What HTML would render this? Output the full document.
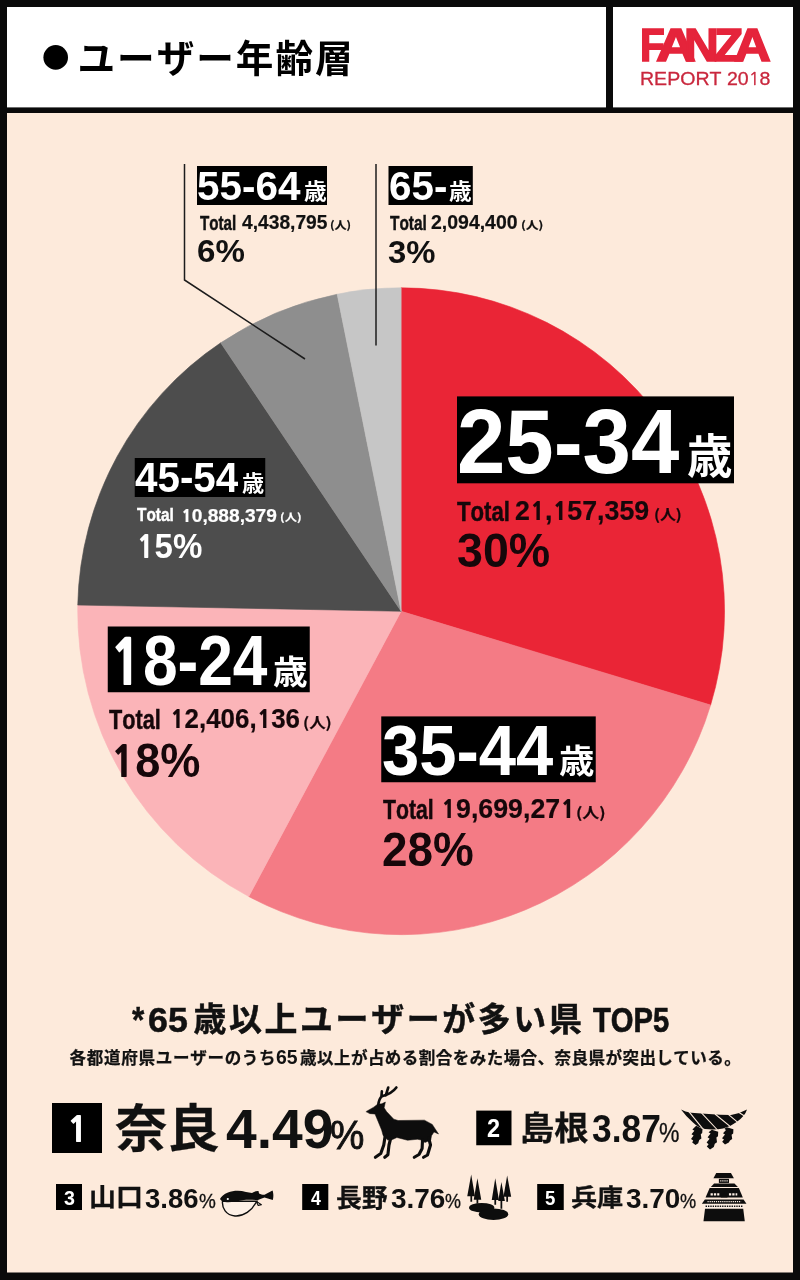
<!DOCTYPE html>
<html lang="ja">
<head>
<meta charset="utf-8">
<title>ユーザー年齢層 - FANZA REPORT 2018</title>
<style>
html,body{margin:0;padding:0;background:#0a0a0a;}
body{width:800px;height:1280px;overflow:hidden;position:relative;}
svg{display:block;position:absolute;left:0;top:0;}
.t{position:absolute;white-space:pre;line-height:1;transform-origin:0 0;font-kerning:none;margin:0;padding:0;}
.lb{font-family:"Liberation Sans","Noto Sans CJK JP",sans-serif;font-weight:700;}
.lr{font-family:"Liberation Sans","Noto Sans CJK JP",sans-serif;font-weight:400;}
.jb{font-family:"Noto Sans CJK JP","Liberation Sans",sans-serif;font-weight:700;}
.jk{font-family:"Noto Sans CJK JP","Liberation Sans",sans-serif;font-weight:900;}
.nb{font-family:"NanumGothic","Liberation Sans",sans-serif;font-weight:800;font-size:88.66%;margin-left:.026em;}
.nr{font-family:"NanumGothic","Liberation Sans",sans-serif;font-weight:400;font-size:92.2%;}
</style>
</head>
<body>
<svg width="800" height="1280" viewBox="0 0 800 1280">
<rect x="0" y="0" width="800.00" height="1280.00" fill="#0a0a0a"/>
<rect x="7" y="7" width="599.00" height="100.40" fill="#fff"/>
<rect x="613" y="7" width="180.00" height="100.40" fill="#fff"/>
<rect x="7" y="113" width="786.00" height="1159.50" fill="#fdeadb"/>
<circle cx="55.7" cy="57.4" r="12.3" fill="#000"/>
<path d="M401.1 611.25L401.10 287.85A323.4 323.4 0 0 1 710.62 704.99Z" fill="#ea2536" stroke="#ea2536" stroke-width="0.6"/>
<path d="M401.1 611.25L710.62 704.99A323.4 323.4 0 0 1 248.77 896.53Z" fill="#f47b85" stroke="#f47b85" stroke-width="0.6"/>
<path d="M401.1 611.25L248.77 896.53A323.4 323.4 0 0 1 77.76 605.04Z" fill="#fbb4b8" stroke="#fbb4b8" stroke-width="0.6"/>
<path d="M401.1 611.25L77.76 605.04A323.4 323.4 0 0 1 220.73 342.82Z" fill="#4d4d4d" stroke="#4d4d4d" stroke-width="0.6"/>
<path d="M401.1 611.25L220.73 342.82A323.4 323.4 0 0 1 337.18 294.23Z" fill="#8e8e8e" stroke="#8e8e8e" stroke-width="0.6"/>
<path d="M401.1 611.25L337.18 294.23A323.4 323.4 0 0 1 401.10 287.85Z" fill="#c6c6c6" stroke="#c6c6c6" stroke-width="0.6"/>
<path d="M184.5 164V280L305 359" fill="none" stroke="#1c1c1c" stroke-width="1.5"/>
<path d="M376 164V345.5" fill="none" stroke="#1c1c1c" stroke-width="1.5"/>
<rect x="197" y="166" width="130.00" height="39.00" fill="#000"/>
<rect x="388.5" y="166" width="84.30" height="39.00" fill="#000"/>
<rect x="457" y="396.4" width="277.00" height="86.90" fill="#000"/>
<rect x="381.25" y="716.4" width="214.50" height="65.85" fill="#000"/>
<rect x="107.75" y="626.5" width="202.00" height="65.75" fill="#000"/>
<rect x="134.75" y="458" width="130.50" height="39.00" fill="#000"/>
<rect x="52" y="1103" width="50.00" height="50.00" fill="#000"/>
<rect x="476.25" y="1110.6" width="35.25" height="34.65" fill="#000"/>
<rect x="56" y="1184" width="26.00" height="26.00" fill="#000"/>
<rect x="302.2" y="1184" width="26.10" height="26.00" fill="#000"/>
<rect x="537.2" y="1184" width="26.55" height="26.00" fill="#000"/>
<g transform="translate(355 1075) scale(0.125)" fill="#0d0d0d" stroke="#0d0d0d" stroke-linecap="round" stroke-linejoin="round"><path stroke-width="4" d="M90 292L150 257L180 234L215 230L243 216L233 262L252 292L310 353L345 364L555 361L618 395L668 472L632 455L612 486L606 520L560 540L530 520L500 514L420 522L335 500L300 516L262 520L225 484L213 440L185 372L160 312L120 309Z"/><path fill="none" stroke-width="21" d="M186 240C190 205 200 182 216 170C255 160 300 142 331 100M211 172L215 130M246 163L266 100"/><path fill="none" stroke-width="25" d="M590 505L604 560L580 640L548 658M540 520L537 588L512 636L474 658M288 496L272 560L263 638L238 658M243 476L230 560L206 628L163 658"/></g>
<g transform="translate(675 1100) scale(0.1)"><path fill="#0d0d0d" d="M60 95Q100 118 160 128L300 138L450 148L560 150Q650 135 720 95Q700 160 620 218Q560 265 480 285Q400 300 300 290Q230 275 180 225Q110 165 60 95Z"/><path fill="none" stroke="#fdeadb" stroke-width="11" d="M135 112L285 296M265 128L425 300M400 140L560 272M530 142L625 222M628 118L695 160"/><path fill="#0d0d0d" d="M212 258L275 290L272 330L258 342L264 385L242 400L232 432L205 450L172 426L182 404L160 390L186 356L165 342L194 308L174 296Z"/><path fill="#0d0d0d" d="M368 298L432 318L430 362L414 375L420 422L398 437L388 470L350 494L318 466L336 442L316 426L346 388L326 372L356 336L336 322Z"/><path fill="#0d0d0d" d="M518 272L584 292L582 334L566 347L572 390L550 404L538 424L500 444L472 418L490 396L470 382L500 346L480 332L510 300L493 288Z"/></g>
<g transform="translate(210 1175) scale(0.1)"><path fill="#fdf0e6" stroke="#0d0d0d" stroke-width="14" d="M125 262C118 330 160 402 250 410C340 416 420 350 452 288L470 262Z"/><path fill="#0d0d0d" d="M100 240C110 215 140 190 180 175C230 155 300 150 360 170L420 180C440 165 465 158 485 160L490 185C510 195 530 200 545 198L625 155C636 180 636 225 628 250L545 225C520 232 500 240 480 250C440 250 380 245 340 250C280 262 220 274 170 272C140 270 112 262 100 240Z"/><path fill="#fdf0e6" stroke="#0d0d0d" stroke-width="11" stroke-linejoin="round" d="M464 264L514 298L482 304Z"/><circle cx="178" cy="240" r="11" fill="#fff"/></g>
<g transform="translate(455 1165) scale(0.0875)" fill="#0d0d0d"><path d="M185 108L228 358L196 358L196 420L176 420L176 358L140 358Z"/><path d="M256 150L300 396L266 396L266 440L246 440L246 396L214 396Z"/><path d="M460 150L502 400L470 400L470 455L450 455L450 400L420 400Z"/><path d="M530 195L570 412L540 412L540 500L520 500L520 412L494 412Z"/><path d="M596 120L642 362L606 362L606 420L586 420L586 362L554 362Z"/><ellipse cx="305" cy="488" rx="145" ry="55"/><ellipse cx="440" cy="562" rx="168" ry="66"/></g>
<g transform="translate(690 1165) scale(0.0875)" fill="#0d0d0d"><path d="M300 92L468 92L502 152L268 152Z"/><path d="M330 158H446V205H330Z"/><path d="M275 212H508L548 252H238Z"/><path d="M225 262H558L604 372H178Z"/><path d="M170 395H612L645 442H135Z"/><path fill="#fdf0e6" d="M165 450H612V494H165Z"/><path d="M172 500H608L626 642H154Z"/><path fill="none" stroke="#fdf0e6" stroke-width="14" stroke-dasharray="14 10" d="M345 182H435M200 418H585"/><path fill="none" stroke="#0d0d0d" stroke-width="16" stroke-dasharray="16 11" d="M178 472H605"/><path fill="none" stroke="#fdf0e6" stroke-width="26" stroke-dasharray="26 12" d="M235 335H335M445 335H540"/><path d="M350 372L390 318L430 372Z"/></g>
</svg>
<div class="t jb" style="left:77.42px;top:37.33px;font-size:37.61px;color:#000;letter-spacing:2.007px">ユーザー年齢層</div>
<div class="t lb" style="left:640.05px;top:22.87px;font-size:45.64px;color:#e5243b;-webkit-text-stroke:1.6px #e5243b"><span style="display:inline-block;width:0;position:relative;left:-0.00px;transform:scaleX(0.889);transform-origin:0 0">F</span><span style="display:inline-block;width:0;position:relative;left:15.59px;transform:scaleX(1.210);transform-origin:0 0">A</span><span style="display:inline-block;width:0;position:relative;left:43.62px;transform:scaleX(1.055);transform-origin:0 0">N</span><span style="display:inline-block;width:0;position:relative;left:74.42px;transform:scaleX(1.045);transform-origin:0 0">Z</span><span style="display:inline-block;width:0;position:relative;left:93.62px;transform:scaleX(1.117);transform-origin:0 0">A</span></div>
<div class="t lr" style="left:640.39px;top:70.00px;font-size:18.90px;color:#c9273d;transform:scaleX(1.0350);-webkit-text-stroke:0.3px #c9273d">REPORT 20<span class="nr">1</span>8</div>
<div class="t lb" style="left:196.97px;top:165.63px;font-size:41.31px;color:#fff;transform:scaleX(0.9802)">55-64</div>
<div class="t jb" style="left:303.91px;top:179.06px;font-size:21.36px;color:#fff;transform:scaleX(1.0625)">歳</div>
<div class="t lb" style="left:199.85px;top:212.75px;font-size:20.06px;color:#111;transform:scaleX(0.7573);-webkit-text-stroke:0.45px #111">Total</div>
<div class="t lb" style="left:242.11px;top:212.36px;font-size:20.06px;color:#111;transform:scaleX(0.9586);-webkit-text-stroke:0.2px #111">4,438,795</div>
<div class="t jb" style="left:329.88px;top:220.09px;font-size:10.67px;color:#111;transform:scaleX(1.1265);-webkit-text-stroke:0.2px #111">(人)</div>
<div class="t lb" style="left:196.81px;top:235.79px;font-size:31.78px;color:#111;transform:scaleX(1.0416)">6%</div>
<div class="t lb" style="left:388.61px;top:165.63px;font-size:41.31px;color:#fff;transform:scaleX(0.9783)">65-</div>
<div class="t jb" style="left:449.30px;top:179.06px;font-size:21.36px;color:#fff;transform:scaleX(1.0625)">歳</div>
<div class="t lb" style="left:390.04px;top:212.75px;font-size:20.06px;color:#111;transform:scaleX(0.7676);-webkit-text-stroke:0.45px #111">Total</div>
<div class="t lb" style="left:430.99px;top:212.39px;font-size:20.06px;color:#111;transform:scaleX(0.9710);-webkit-text-stroke:0.2px #111">2,094,400</div>
<div class="t jb" style="left:520.92px;top:220.01px;font-size:10.67px;color:#111;transform:scaleX(1.1925);-webkit-text-stroke:0.2px #111">(人)</div>
<div class="t lb" style="left:388.41px;top:235.64px;font-size:32.14px;color:#111;transform:scaleX(1.0224)">3%</div>
<div class="t lb" style="left:457.19px;top:397.33px;font-size:90.21px;color:#fff;transform:scaleX(0.9635)">25-34</div>
<div class="t jb" style="left:687.12px;top:429.77px;font-size:46.23px;color:#fff;transform:scaleX(0.9823)">歳</div>
<div class="t lb" style="left:457.08px;top:498.36px;font-size:27.18px;color:#16070a;transform:scaleX(0.8162);-webkit-text-stroke:0.45px #16070a">Total</div>
<div class="t lb" style="left:514.82px;top:496.92px;font-size:27.18px;color:#16070a;transform:scaleX(0.9847);-webkit-text-stroke:0.2px #16070a">2<span class="nb">1</span>,<span class="nb">1</span>57,359</div>
<div class="t jb" style="left:653.70px;top:506.60px;font-size:14.45px;color:#16070a;transform:scaleX(1.0924);-webkit-text-stroke:0.2px #16070a">(人)</div>
<div class="t lb" style="left:456.57px;top:526.32px;font-size:48.35px;color:#16070a;transform:scaleX(0.9633)">30%</div>
<div class="t lb" style="left:382.34px;top:716.87px;font-size:69.63px;color:#fff;transform:scaleX(0.9627)">35-44</div>
<div class="t jb" style="left:558.89px;top:743.17px;font-size:32.94px;color:#fff;transform:scaleX(1.0750)">歳</div>
<div class="t lb" style="left:383.00px;top:795.69px;font-size:27.25px;color:#16070a;transform:scaleX(0.7790);-webkit-text-stroke:0.45px #16070a">Total</div>
<div class="t lb" style="left:441.46px;top:795.14px;font-size:27.25px;color:#16070a;transform:scaleX(0.9824);-webkit-text-stroke:0.2px #16070a"><span class="nb">1</span>9,699,27<span class="nb">1</span></div>
<div class="t jb" style="left:576.13px;top:804.85px;font-size:14.49px;color:#16070a;transform:scaleX(1.1619);-webkit-text-stroke:0.2px #16070a">(人)</div>
<div class="t lb" style="left:382.32px;top:825.13px;font-size:48.59px;color:#16070a;transform:scaleX(0.9432)">28%</div>
<div class="t lb" style="left:107.84px;top:626.37px;font-size:70.34px;color:#fff;transform:scaleX(0.8853)"><span class="nb">1</span>8-24</div>
<div class="t jb" style="left:272.93px;top:653.13px;font-size:33.48px;color:#fff;transform:scaleX(1.0339)">歳</div>
<div class="t lb" style="left:109.29px;top:705.69px;font-size:27.25px;color:#16070a;transform:scaleX(0.7959);-webkit-text-stroke:0.45px #16070a">Total</div>
<div class="t lb" style="left:169.83px;top:705.14px;font-size:27.25px;color:#16070a;transform:scaleX(0.9516);-webkit-text-stroke:0.2px #16070a"><span class="nb">1</span>2,406,<span class="nb">1</span>36</div>
<div class="t jb" style="left:302.89px;top:714.84px;font-size:14.49px;color:#16070a;transform:scaleX(1.1321);-webkit-text-stroke:0.2px #16070a">(人)</div>
<div class="t lb" style="left:109.82px;top:736.18px;font-size:48.38px;color:#16070a;transform:scaleX(0.9326)"><span class="nb">1</span>8%</div>
<div class="t lb" style="left:134.85px;top:457.48px;font-size:41.92px;color:#fff;transform:scaleX(0.9636)">45-54</div>
<div class="t jb" style="left:241.91px;top:471.07px;font-size:21.36px;color:#fff;transform:scaleX(1.0385)">歳</div>
<div class="t lb" style="left:136.63px;top:505.31px;font-size:19.26px;color:#fff;transform:scaleX(0.7998);-webkit-text-stroke:0.45px #fff">Total</div>
<div class="t lb" style="left:180.67px;top:506.10px;font-size:19.26px;color:#fff;transform:scaleX(0.9949);-webkit-text-stroke:0.2px #fff"><span class="nb">1</span>0,888,379</div>
<div class="t jb" style="left:279.89px;top:511.97px;font-size:10.24px;color:#fff;transform:scaleX(1.2031);-webkit-text-stroke:0.2px #fff">(人)</div>
<div class="t lb" style="left:136.05px;top:529.32px;font-size:34.37px;color:#fff;transform:scaleX(0.9621)"><span class="nb">1</span>5%</div>
<div class="t lb" style="left:131.77px;top:1003.08px;font-size:36.55px;color:#111;transform:scaleX(0.8637);-webkit-text-stroke:0.4px #111">*</div>
<div class="t lb" style="left:147.75px;top:1002.56px;font-size:35.73px;color:#111;transform:scaleX(1.0024);-webkit-text-stroke:0.5px #111">65</div>
<div class="t jb" style="left:193.38px;top:1000.66px;font-size:32.89px;color:#111;letter-spacing:2.678px;-webkit-text-stroke:0.5px #111">歳以上ユーザーが多い県</div>
<div class="t lb" style="left:593.13px;top:1002.55px;font-size:35.73px;color:#111;transform:scaleX(0.8174);-webkit-text-stroke:0.7px #111">TOP5</div>
<div class="t jb" style="left:69.46px;top:1048.79px;font-size:16.56px;color:#111;letter-spacing:0.695px;-webkit-text-stroke:0.25px #111">各都道府県ユーザーのうち</div>
<div class="t lb" style="left:275.55px;top:1048.01px;font-size:19.35px;color:#111;transform:scaleX(1.0045)">65</div>
<div class="t jb" style="left:300.00px;top:1048.69px;font-size:16.56px;color:#111;letter-spacing:0.423px;-webkit-text-stroke:0.25px #111">歳以上が占める割合をみた場合、奈良県が突出している。</div>
<div class="t lb" style="left:65.66px;top:1109.94px;font-size:38.23px;color:#fff;transform:scaleX(1.0489)"><span class="nb">1</span></div>
<div class="t jb" style="left:114.63px;top:1100.32px;font-size:50.64px;color:#111;transform:scaleX(1.0344);-webkit-text-stroke:0.3px #111">奈良</div>
<div class="t lb" style="left:225.94px;top:1101.95px;font-size:55.08px;color:#111;transform:scaleX(1.0019)">4.49</div>
<div class="t lr" style="left:330.02px;top:1115.09px;font-size:40.02px;color:#111;transform:scaleX(0.9653);-webkit-text-stroke:0.9px #111">%</div>
<div class="t lb" style="left:486.88px;top:1115.99px;font-size:25.92px;color:#fff;transform:scaleX(0.9051)">2</div>
<div class="t jb" style="left:519.81px;top:1110.12px;font-size:32.45px;color:#111;transform:scaleX(1.0557);-webkit-text-stroke:0.3px #111">島根</div>
<div class="t lb" style="left:591.54px;top:1109.90px;font-size:38.27px;color:#111;transform:scaleX(0.9237)">3.87</div>
<div class="t lr" style="left:658.84px;top:1119.98px;font-size:26.87px;color:#111;transform:scaleX(0.8569);-webkit-text-stroke:0.3px #111">%</div>
<div class="t lb" style="left:63.77px;top:1187.56px;font-size:20.16px;color:#fff;transform:scaleX(0.9753)">3</div>
<div class="t jb" style="left:89.35px;top:1183.32px;font-size:24.89px;color:#111;transform:scaleX(1.0824);-webkit-text-stroke:0.3px #111">山口</div>
<div class="t lb" style="left:145.07px;top:1186.05px;font-size:26.92px;color:#111;transform:scaleX(1.0223)">3.86</div>
<div class="t lr" style="left:198.82px;top:1192.36px;font-size:19.51px;color:#111;transform:scaleX(0.9719);-webkit-text-stroke:0.3px #111">%</div>
<div class="t lb" style="left:310.95px;top:1188.23px;font-size:20.64px;color:#fff;transform:scaleX(0.8590)">4</div>
<div class="t jb" style="left:335.78px;top:1183.65px;font-size:24.83px;color:#111;transform:scaleX(1.0388);-webkit-text-stroke:0.3px #111">長野</div>
<div class="t lb" style="left:390.94px;top:1186.06px;font-size:26.92px;color:#111;transform:scaleX(1.0387)">3.76</div>
<div class="t lr" style="left:445.28px;top:1192.35px;font-size:19.51px;color:#111;transform:scaleX(0.9200);-webkit-text-stroke:0.3px #111">%</div>
<div class="t lb" style="left:545.05px;top:1188.33px;font-size:20.49px;color:#fff;transform:scaleX(0.9091)">5</div>
<div class="t jb" style="left:570.87px;top:1185.46px;font-size:23.36px;color:#111;transform:scaleX(1.1181);-webkit-text-stroke:0.3px #111">兵庫</div>
<div class="t lb" style="left:625.95px;top:1186.06px;font-size:26.92px;color:#111;transform:scaleX(1.0382)">3.70</div>
<div class="t lr" style="left:680.07px;top:1192.35px;font-size:19.51px;color:#111;transform:scaleX(0.9328);-webkit-text-stroke:0.3px #111">%</div>
</body>
</html>
